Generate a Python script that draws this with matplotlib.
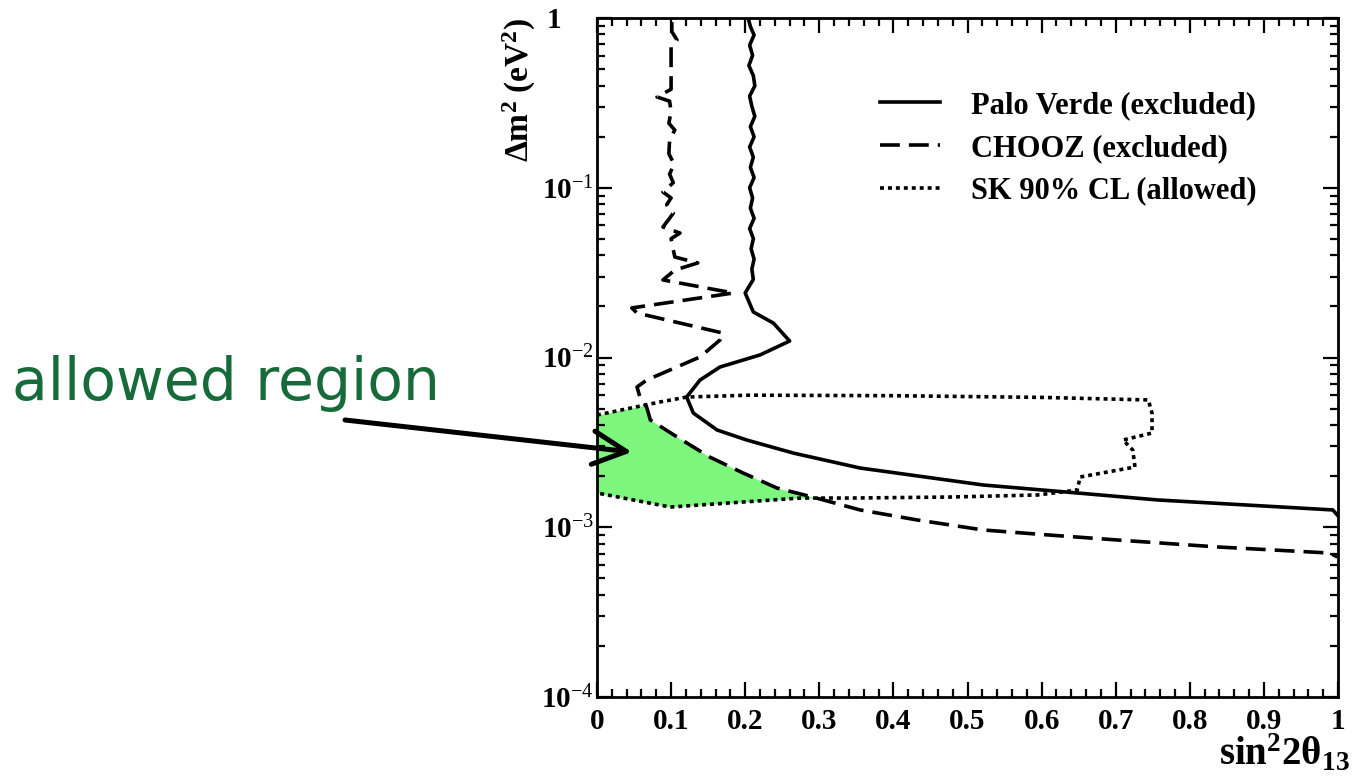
import numpy as np
import matplotlib
matplotlib.use("Agg")
import matplotlib.pyplot as plt
from matplotlib.transforms import ScaledTranslation

plt.rcParams['font.family'] = ['Liberation Serif', 'DejaVu Serif']
plt.rcParams['mathtext.fontset'] = 'custom'
plt.rcParams['mathtext.rm'] = 'Liberation Serif'
plt.rcParams['mathtext.it'] = 'Liberation Serif:italic'
plt.rcParams['mathtext.bf'] = 'Liberation Serif:bold'

# Palo Verde exclusion contour (sin^2 2theta, log10 dm^2)
pv_x = [0.204, 0.207, 0.212, 0.206, 0.210, 0.205, 0.211, 0.213, 0.206, 0.209,
        0.213, 0.207, 0.212, 0.206, 0.211, 0.207, 0.212, 0.206, 0.210, 0.207,
        0.212, 0.206, 0.211, 0.208, 0.212, 0.209, 0.211, 0.204, 0.200, 0.211,
        0.238, 0.260, 0.220, 0.166, 0.139, 0.121, 0.130, 0.162, 0.202, 0.265,
        0.355, 0.521, 0.648, 0.756, 0.993, 0.999]
pv_logdm2 = [0.0, -0.05, -0.10, -0.16, -0.22, -0.28, -0.34, -0.40, -0.46, -0.52,
             -0.58, -0.64, -0.70, -0.76, -0.82, -0.88, -0.94, -1.00, -1.06, -1.12,
             -1.18, -1.24, -1.30, -1.36, -1.42, -1.48, -1.54, -1.59, -1.620, -1.732,
             -1.797, -1.903, -1.985, -2.056, -2.133, -2.233, -2.327, -2.427, -2.486, -2.563,
             -2.651, -2.751, -2.798, -2.839, -2.898, -2.928]

# CHOOZ exclusion contour
ch_x = [0.101, 0.101, 0.108, 0.100, 0.100, 0.081, 0.098, 0.100, 0.097, 0.105,
        0.098, 0.097, 0.104, 0.098, 0.103, 0.089, 0.100, 0.094, 0.103, 0.098,
        0.089, 0.112, 0.100, 0.105, 0.136, 0.105, 0.089, 0.184, 0.047, 0.054,
        0.170, 0.166, 0.139, 0.067, 0.054, 0.058, 0.067, 0.072, 0.108, 0.152,
        0.197, 0.243, 0.291, 0.355, 0.432, 0.521, 0.611, 0.702, 0.837, 0.989,
        0.999]
ch_logdm2 = [-0.024, -0.08, -0.13, -0.17, -0.42, -0.465, -0.49, -0.55, -0.62, -0.66,
             -0.72, -0.80, -0.86, -0.92, -0.97, -1.025, -1.06, -1.10, -1.149, -1.18,
             -1.231, -1.267, -1.30, -1.408, -1.443, -1.485, -1.543, -1.620, -1.708, -1.738,
             -1.856, -1.897, -1.997, -2.133, -2.174, -2.233, -2.292, -2.368, -2.468, -2.586,
             -2.680, -2.769, -2.822, -2.898, -2.957, -3.016, -3.046, -3.075, -3.116, -3.152,
             -3.175]

# SK 90% CL allowed contour (closed)
sk_x = [0.0, 0.065, 0.085, 0.121, 0.206, 0.40, 0.60, 0.744, 0.749, 0.749,
        0.710, 0.723, 0.726, 0.652, 0.648, 0.594, 0.476, 0.341, 0.274, 0.099, 0.0]
sk_logdm2 = [-2.339, -2.280, -2.262, -2.233, -2.222, -2.225, -2.235, -2.250, -2.327, -2.445,
             -2.486, -2.545, -2.645, -2.704, -2.781, -2.810, -2.822, -2.828, -2.828, -2.881, -2.798]

legend_labels = ['Palo Verde (excluded)', 'CHOOZ (excluded)', 'SK 90% CL (allowed)']
xtick_labels = ['0', '0.1', '0.2', '0.3', '0.4', '0.5', '0.6', '0.7', '0.8', '0.9', '1']
ytick_labels = [r'$\mathbf{10}^{-4}$', r'$\mathbf{10}^{-3}$', r'$\mathbf{10}^{-2}$',
                r'$\mathbf{10}^{-1}$', r'$\mathbf{1}$']

pv_x = np.array(pv_x); pv_y = 10.0 ** np.array(pv_logdm2)
ch_x = np.array(ch_x); ch_y = 10.0 ** np.array(ch_logdm2)
sk_x = np.array(sk_x); sk_y = 10.0 ** np.array(sk_logdm2)

fig = plt.figure(figsize=(13.54, 7.76), dpi=100)
ax = fig.add_axes([0.4409, 0.1018, 0.5473, 0.8750])

# allowed region: inside SK contour and left of the CHOOZ curve
top_idx = slice(0, 8)
bot_x = sk_x[15:][::-1]
bot_l = np.array(sk_logdm2[15:])[::-1]
ch_start = 34  # lowest branch of CHOOZ, monotonic in x
xs = np.linspace(0, 0.3, 600)
upper = np.minimum(np.interp(xs, sk_x[top_idx], sk_logdm2[top_idx]),
                   np.interp(xs, ch_x[ch_start:], ch_logdm2[ch_start:]))
lower = np.interp(xs, bot_x, bot_l)
ok = upper > lower
ax.fill_between(xs, 10 ** lower, 10 ** upper, where=ok, color='#7ef57c',
                lw=0, zorder=1)

ax.plot(pv_x, pv_y, color='black', lw=2.6, ls='-', label=legend_labels[0], zorder=3)
ax.plot(ch_x, ch_y, color='black', lw=2.6, ls=(0, (5.5, 2.5)), label=legend_labels[1], zorder=3)
ax.plot(sk_x, sk_y, color='black', lw=2.6, ls=(0, (1.1, 1.1)), label=legend_labels[2], zorder=3)

ax.set_xlim(0, 1)
ax.set_yscale('log')
ax.set_ylim(1e-4, 1)
ax.set_xticks(np.arange(0, 1.01, 0.1))
ax.set_xticks(np.arange(0, 1.001, 0.02), minor=True)
ax.set_xticklabels(xtick_labels, fontsize=21, fontweight='bold')
ax.set_yticks([1e-4, 1e-3, 1e-2, 1e-1, 1])
ax.set_yticklabels(ytick_labels, fontsize=21)
ax.tick_params(which='both', direction='in', top=True, right=True, width=1.6)
ax.tick_params(which='major', length=11, pad=8)
ax.tick_params(which='minor', length=5.5)
ax.tick_params(axis='y', which='major', pad=2)
for s in ax.spines.values():
    s.set_linewidth(2)

# the "1" label sits where the "10" of the other labels sits
one_lbl = ax.get_yticklabels()[-1]
one_lbl.set_transform(one_lbl.get_transform() + ScaledTranslation(-0.33, 0, fig.dpi_scale_trans))

ax.text(-0.104, 1.0, r'$\mathbf{\Delta m}^{\mathbf{2}}\ \mathbf{(eV}^{\mathbf{2}}\mathbf{)}$',
        rotation=90, transform=ax.transAxes, ha='center', va='top', fontsize=24)
ax.text(1.016, -0.083, r'$\mathbf{sin}^{\mathbf{2}}\mathbf{2θ}_{\mathbf{13}}$',
        transform=ax.transAxes, ha='right', va='center', fontsize=28)

ax.legend(loc='upper left', bbox_to_anchor=(0.382, 0.8925), frameon=False,
          borderaxespad=0, borderpad=0, handlelength=1.96, handletextpad=1.0,
          labelspacing=0.45, prop={'family': 'Liberation Serif', 'weight': 'bold', 'size': 22})

fig.text(12 / 1354, 1 - 400 / 776, 'allowed region', color='#176b3a', fontsize=42,
         family='DejaVu Sans', va='baseline', ha='left')
ax.annotate('', xy=(0.047, 10 ** -2.557), xycoords='data',
            xytext=(345 / 1354, 1 - 420 / 776), textcoords='figure fraction',
            arrowprops=dict(arrowstyle='->,head_length=1.2,head_width=0.6',
                            lw=3.6, color='black', mutation_scale=20,
                            shrinkA=0, shrinkB=0),
            annotation_clip=False, zorder=5)

fig.savefig('out.png', dpi=100)
